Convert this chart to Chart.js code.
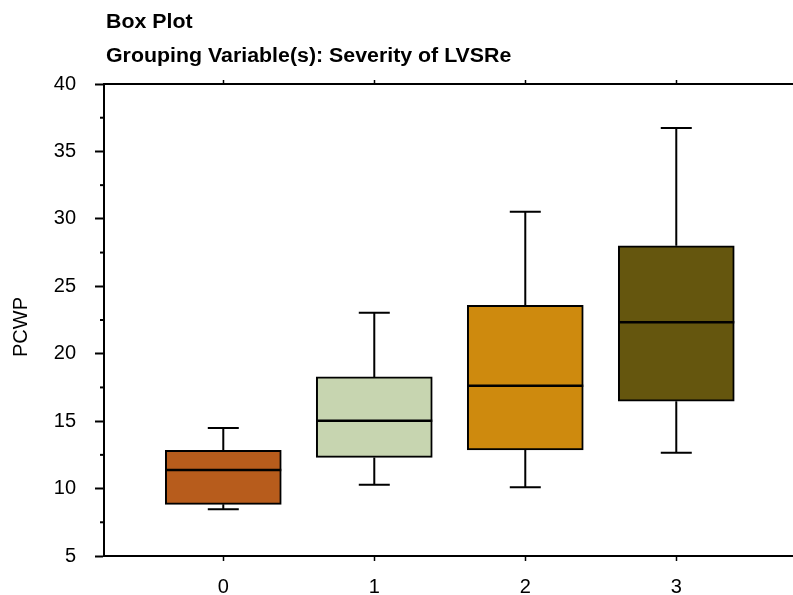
<!DOCTYPE html>
<html>
<head>
<meta charset="utf-8">
<title>Box Plot</title>
<script src="https://cdn.jsdelivr.net/npm/chart.js@4/dist/chart.umd.min.js"></script>
<style>
  html, body { margin: 0; padding: 0; background: #ffffff; }
  #wrap { width: 793px; height: 595px; position: relative; }
</style>
</head>
<body>
<div id="wrap"><canvas id="chart" width="793" height="595"></canvas></div>
<script>
// Severity of LVSRe groups and PCWP box statistics
const categories = [0, 1, 2, 3];
const whiskerLow = [8.46, 10.29, 10.09, 12.66];
const quartile1  = [8.83, 12.31, 12.86, 16.48];
const medians    = [11.38, 15.03, 17.62, 22.33];
const quartile3  = [12.83, 18.28, 23.59, 28.0];
const whiskerHigh = [14.49, 23.04, 30.52, 36.73];
const boxColors = ['#B75C1C', '#C7D5B0', '#CE8A0E', '#65560E'];
const yTicks = [5, 10, 15, 20, 25, 30, 35, 40];

const FONT = '"Liberation Sans", Arial, Helvetica, sans-serif';

// Whiskers, caps, medians, minor ticks and titles
const boxExtras = {
  id: 'boxExtras',
  beforeDatasetsDraw(chart) {
    const { ctx, scales: { x, y } } = chart;
    ctx.save();
    ctx.strokeStyle = '#000';
    ctx.lineWidth = 2;
    categories.forEach((c, i) => {
      const px = x.getPixelForValue(c);
      const capHalf = 15.5;
      ctx.beginPath();
      ctx.moveTo(px, y.getPixelForValue(quartile3[i]));
      ctx.lineTo(px, y.getPixelForValue(whiskerHigh[i]));
      ctx.moveTo(px - capHalf, y.getPixelForValue(whiskerHigh[i]));
      ctx.lineTo(px + capHalf, y.getPixelForValue(whiskerHigh[i]));
      ctx.moveTo(px, y.getPixelForValue(quartile1[i]));
      ctx.lineTo(px, y.getPixelForValue(whiskerLow[i]));
      ctx.moveTo(px - capHalf, y.getPixelForValue(whiskerLow[i]));
      ctx.lineTo(px + capHalf, y.getPixelForValue(whiskerLow[i]));
      ctx.stroke();
    });
    ctx.restore();
  },
  afterDatasetsDraw(chart) {
    const { ctx, scales: { x, y } } = chart;
    const meta = chart.getDatasetMeta(0);
    ctx.save();
    ctx.strokeStyle = '#000';
    ctx.lineWidth = 2.5;
    categories.forEach((c, i) => {
      const bar = meta.data[i];
      const half = bar.width / 2;
      const px = x.getPixelForValue(c);
      const py = y.getPixelForValue(medians[i]);
      ctx.beginPath();
      ctx.moveTo(px - half, py);
      ctx.lineTo(px + half, py);
      ctx.stroke();
    });
    ctx.restore();
  },
  afterDraw(chart) {
    const { ctx, scales: { y } } = chart;
    ctx.save();
    // minor ticks on the value axis
    ctx.strokeStyle = '#000';
    ctx.lineWidth = 2;
    y.ticks.forEach(t => {
      if (t.value % 5 !== 0) {
        const py = y.getPixelForValue(t.value);
        ctx.beginPath();
        ctx.moveTo(y.right - 4, py);
        ctx.lineTo(y.right, py);
        ctx.stroke();
      }
    });
    // headings (slightly wide bold face)
    ctx.save();
    ctx.fillStyle = '#000';
    ctx.textAlign = 'left';
    ctx.textBaseline = 'alphabetic';
    ctx.font = 'bold 19.5px ' + FONT;
    ctx.translate(106, 0);
    ctx.scale(1.095, 1);
    ctx.fillText('Box Plot', 0, 28.3);
    ctx.fillText('Grouping Variable(s): Severity of LVSRe', 0, 61.6);
    ctx.restore();
    // value axis title
    ctx.fillStyle = '#000';
    ctx.font = '20px ' + FONT;
    ctx.translate(21, 327);
    ctx.rotate(-Math.PI / 2);
    ctx.textAlign = 'center';
    ctx.textBaseline = 'middle';
    ctx.fillText('PCWP', 0, 0);
    ctx.restore();
  }
};

const catTicks = scale => { scale.ticks = categories.map(v => ({ value: v })); };

new Chart(document.getElementById('chart'), {
  type: 'bar',
  data: {
    datasets: [{
      data: categories.map((c, i) => ({ x: c, y: [quartile1[i], quartile3[i]] })),
      backgroundColor: boxColors,
      borderColor: '#000',
      borderWidth: 2,
      borderSkipped: false,
      barThickness: 116
    }]
  },
  plugins: [boxExtras],
  options: {
    responsive: false,
    animation: false,
    devicePixelRatio: 1,
    layout: { padding: { top: 80, left: 0, right: 0, bottom: 0 } },
    plugins: { legend: { display: false }, tooltip: { enabled: false }, title: { display: false } },
    scales: {
      x: {
        type: 'linear',
        position: 'bottom',
        offset: false,
        min: -0.79,
        max: 3.773,
        afterBuildTicks: catTicks,
        afterFit(scale) { scale.height = 39; },
        grid: { offset: false, drawOnChartArea: false, drawTicks: true, tickLength: 5, tickColor: '#000', tickWidth: 1.5 },
        border: { display: true, color: '#000', width: 2 },
        ticks: { color: '#000', font: { family: FONT, size: 20 }, padding: 14, maxRotation: 0 }
      },
      xTop: {
        type: 'linear',
        position: 'top',
        offset: false,
        min: -0.79,
        max: 3.773,
        afterBuildTicks: catTicks,
        afterFit(scale) { scale.height = 4; },
        grid: { offset: false, drawOnChartArea: false, drawTicks: true, tickLength: 4, tickColor: '#000', tickWidth: 1.5 },
        border: { display: true, color: '#000', width: 2 },
        ticks: { display: false }
      },
      y: {
        type: 'linear',
        position: 'left',
        min: 5,
        max: 40,
        afterBuildTicks(scale) {
          const t = [];
          yTicks.forEach((v, i) => {
            t.push({ value: v });
            if (i < yTicks.length - 1) t.push({ value: (v + yTicks[i + 1]) / 2 });
          });
          scale.ticks = t;
        },
        afterFit(scale) { scale.width = 104; },
        grid: {
          drawOnChartArea: false, drawTicks: true, tickLength: 9, tickWidth: 2,
          tickColor: c => (c.tick && c.tick.value % 5 === 0) ? '#000' : 'rgba(0,0,0,0)'
        },
        border: { display: true, color: '#000', width: 2 },
        ticks: {
          color: '#000', font: { family: FONT, size: 20 }, padding: 19,
          callback: v => (v % 5 === 0 ? String(v) : '')
        }
      }
    }
  }
});
</script>
</body>
</html>
